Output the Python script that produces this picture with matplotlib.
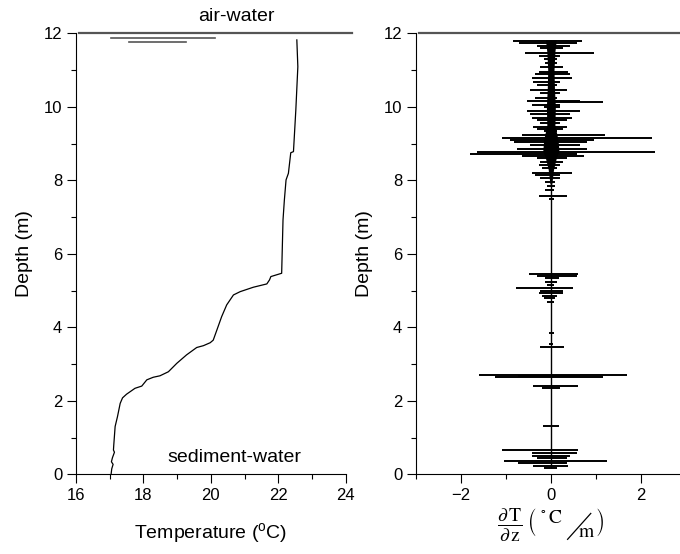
import numpy as np
import matplotlib
matplotlib.use('Agg')
import matplotlib.pyplot as plt
from matplotlib.lines import Line2D
from matplotlib.ticker import MultipleLocator

plt.rcParams['font.family'] = ['Liberation Sans', 'DejaVu Sans']
plt.rcParams['mathtext.fontset'] = 'custom'
plt.rcParams['mathtext.rm'] = 'Liberation Sans'
plt.rcParams['mathtext.it'] = 'Liberation Sans:italic'

# temperature profile (depth in m, temperature in deg C)
temp_depth = [0.0, 0.15, 0.27, 0.34, 0.45, 0.60, 0.66, 0.80, 1.30, 1.57, 1.93,
              2.08, 2.18, 2.34, 2.40, 2.57, 2.64, 2.68, 2.79, 3.02, 3.25, 3.45,
              3.50, 3.58, 3.65, 3.93, 4.29, 4.61, 4.88, 4.97, 5.09, 5.18, 5.29,
              5.38, 5.47, 6.92, 7.46, 8.01, 8.19, 8.75, 8.78, 9.10, 9.91, 11.09,
              11.82]
temp_value = [17.04, 17.06, 17.10, 17.05, 17.08, 17.14, 17.11, 17.12, 17.16,
              17.23, 17.31, 17.38, 17.50, 17.75, 17.95, 18.10, 18.29, 18.49,
              18.74, 18.99, 19.28, 19.58, 19.78, 19.98, 20.07, 20.18, 20.32,
              20.47, 20.67, 20.87, 21.26, 21.66, 21.74, 21.78, 22.10, 22.14,
              22.18, 22.23, 22.30, 22.37, 22.45, 22.47, 22.52, 22.58, 22.55]

# temperature gradient: spikes (depth, leftmost value, rightmost value)
grad_depth = [11.79, 11.73, 11.66, 11.59, 11.46, 11.38, 11.29, 11.18, 11.07,
              10.96, 10.88, 10.78, 10.68, 10.59, 10.46, 10.37, 10.23, 10.17,
              10.13, 10.05, 9.99, 9.89, 9.80, 9.70, 9.64, 9.55, 9.46, 9.40,
              9.34, 9.23, 9.14, 9.10, 9.03, 8.96, 8.85, 8.78, 8.72, 8.67, 8.60,
              8.51, 8.42, 8.33, 8.21, 8.15, 8.05, 7.94, 7.84, 7.74, 7.58, 7.48,
              5.45, 5.40, 5.33, 5.24, 5.15, 5.06, 4.99, 4.92, 4.85, 4.79, 4.70,
              3.85, 3.55, 3.47, 2.70, 2.67, 2.64, 2.40, 2.34, 1.31, 0.66, 0.59,
              0.50, 0.43, 0.37, 0.30, 0.22, 0.16]
grad_left = [-0.84, -0.72, -0.31, -0.24, -0.57, -0.27, -0.16, -0.13, -0.24,
             -0.27, -0.35, -0.42, -0.39, -0.31, -0.46, -0.24, -0.35, -0.53,
             -0.01, -0.42, -0.16, -0.53, -0.46, -0.42, -0.31, -0.24, -0.39,
             -0.31, -0.16, -0.64, -1.09, -0.90, -0.83, -0.46, -0.76, -1.64,
             -1.79, -0.64, -0.31, -0.24, -0.27, -0.20, -0.42, -0.35, -0.24,
             -0.13, -0.09, -0.13, -0.27, -0.05, -0.48, -0.31, -0.13, -0.13,
             -0.09, -0.77, -0.24, -0.27, -0.20, -0.16, -0.09, -0.05, -0.05,
             -0.24, -1.61, -0.73, -1.24, -0.39, -0.20, -0.18, -1.09, -0.42,
             -0.42, -0.31, -1.05, -0.73, -0.39, -0.16]
grad_right = [0.69, 0.58, 0.43, 0.28, 0.95, 0.21, 0.13, 0.13, 0.28, 0.39, 0.43,
              0.47, 0.21, 0.13, 0.36, 0.21, 0.13, 0.65, 1.17, 0.21, 0.21, 0.65,
              0.43, 0.47, 0.36, 0.21, 0.36, 0.28, 0.13, 1.21, 2.24, 0.95, 0.80,
              0.65, 0.80, 2.32, 0.58, 0.73, 0.36, 0.28, 0.21, 0.13, 0.47, 0.21,
              0.21, 0.10, 0.10, 0.06, 0.36, 0.06, 0.61, 0.58, 0.17, 0.13, 0.06,
              0.50, 0.28, 0.28, 0.13, 0.10, 0.06, 0.06, 0.05, 0.30, 1.69, 0.65,
              1.17, 0.61, 0.21, 0.17, 0.61, 0.58, 0.43, 0.36, 1.24, 0.36, 0.39,
              0.13]
# dense core of the noisy upper layer
core_depth = [7.9, 8.3, 8.6, 8.8, 9.1, 9.5, 10.0, 10.5, 11.0, 11.5, 11.82]
core_half = [0.02, 0.06, 0.12, 0.18, 0.16, 0.09, 0.10, 0.08, 0.07, 0.09, 0.12]
grad_top, grad_bottom = 11.82, 0.16

# water surface marker and surface lines
surf_left = [16.1, 24.2]
surf_right = [-2.93, 3.0]
mark_x = [[17.03, 20.12], [17.57, 19.26]]
mark_y = [11.88, 11.76]

fig = plt.figure(figsize=(6.8, 5.54), dpi=100)
ax1 = fig.add_axes([0.1118, 0.1439, 0.3966, 0.796])
ax2 = fig.add_axes([0.6118, 0.1439, 0.3966, 0.796])

for ax in (ax1, ax2):
    ax.set_ylim(0, 12)
    ax.yaxis.set_major_locator(MultipleLocator(2))
    ax.yaxis.set_minor_locator(MultipleLocator(1))
    ax.tick_params(which='both', direction='out', width=0.8, labelsize=12,
                   top=False, right=False)
    ax.tick_params(which='major', length=6.5)
    ax.tick_params(which='minor', length=3.5)
    ax.spines['top'].set_visible(False)
    ax.spines['right'].set_visible(False)
    for s in ('left', 'bottom'):
        ax.spines[s].set_linewidth(0.8)
    ax.set_ylabel('Depth (m)', fontsize=14)
    ax.yaxis.set_label_coords(-0.16, 0.5)

# left panel
ax1.plot(temp_value, temp_depth, color='black', lw=0.9)
ax1.set_xlim(16, 24)
ax1.xaxis.set_major_locator(MultipleLocator(2))
ax1.xaxis.set_minor_locator(MultipleLocator(1))
ax1.plot(surf_left, [12, 12], color='#555555', lw=1.6, clip_on=False)
for xs, y in zip(mark_x, mark_y):
    ax1.plot(xs, [y, y], color='#555555', lw=1.2)
ax1.set_xlabel('Temperature ($^{\\mathrm{o}}$C)', fontsize=14)
ax1.xaxis.set_label_coords(0.5, -0.105)
ax1.text(0.593, 1.037, 'air-water', transform=ax1.transAxes, fontsize=14,
         ha='center', va='center')
ax1.text(0.589, 0.039, 'sediment-water', transform=ax1.transAxes, fontsize=14,
         ha='center', va='center')

# right panel
ax2.set_xlim(-3, 3)
ax2.xaxis.set_major_locator(MultipleLocator(2))
ax2.xaxis.set_minor_locator(MultipleLocator(1))
ax2.vlines(0, grad_bottom, grad_top, color='black', lw=1.0)
ax2.fill_betweenx(core_depth, -np.array(core_half), core_half, color='black', lw=0)
ax2.hlines(grad_depth, grad_left, grad_right, color='black', lw=1.4)
ax2.plot(surf_right, [12, 12], color='#555555', lw=1.6, clip_on=False)
xl = ax2.set_xlabel(r'$\dfrac{\partial\,\mathrm{T}}{\partial\,\mathrm{z}}\ '
                    r'\left(\genfrac{}{}{0}{0}{{}^{\circ}\,\mathrm{C}\ \ \ \ \ \ }'
                    r'{\ \ \ \ \ \ \ \ \ \mathrm{m}}\right)$', fontsize=14)
xl.set_math_fontfamily('stix')
ax2.xaxis.set_label_coords(0.5, -0.072)

# slanted bar of the C/m unit, placed from the rendered label box
fig.canvas.draw()
bb = xl.get_window_extent().transformed(fig.transFigure.inverted())
fig.add_artist(Line2D([bb.x0 + 0.655 * bb.width, bb.x0 + 0.87 * bb.width],
                      [bb.y0 + 0.10 * bb.height, bb.y0 + 0.80 * bb.height],
                      color='black', lw=0.9))

fig.savefig('out.png', dpi=100)
